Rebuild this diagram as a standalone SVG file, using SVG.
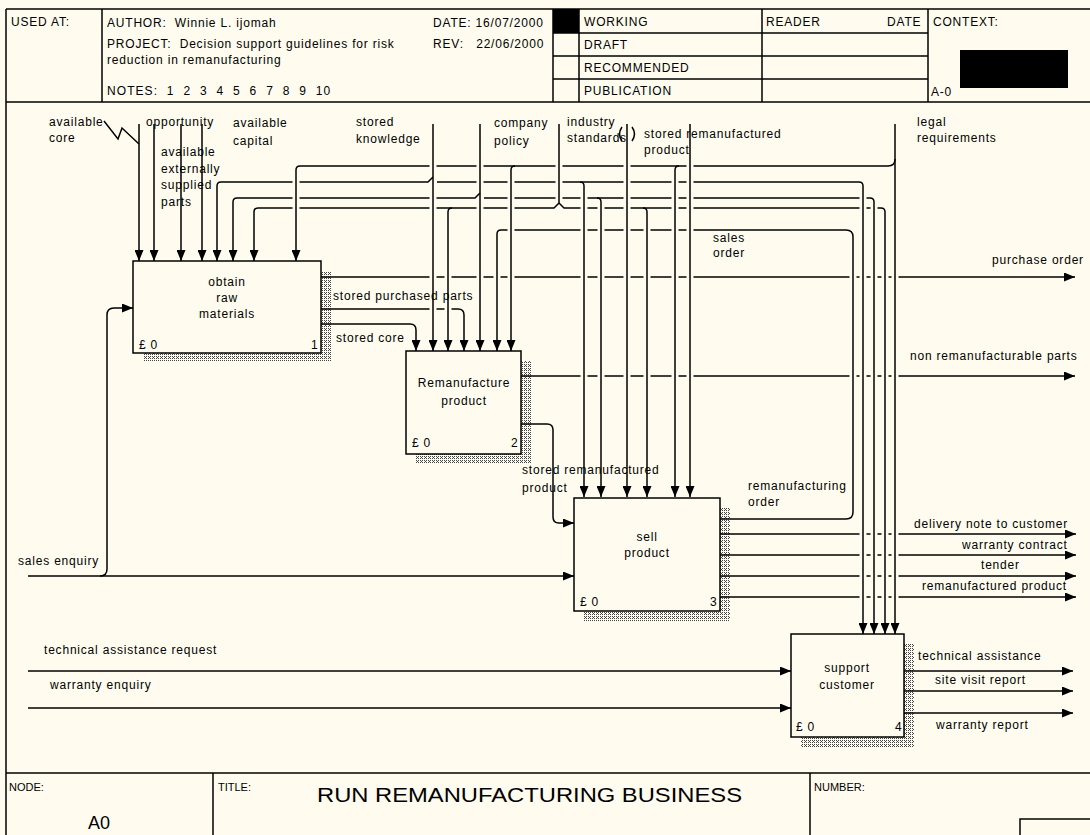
<svg xmlns="http://www.w3.org/2000/svg" width="1090" height="835" viewBox="0 0 1090 835">
<defs>
<style>
.ln{fill:none;stroke:#000;stroke-width:1.5}
.ar{fill:none;stroke:#000;stroke-width:1.5;marker-end:url(#ah)}
.gp{fill:none;stroke:#fffcef;stroke-width:7}
.bx{fill:#fffcef;stroke:#000;stroke-width:1.5}
.sh{fill:url(#hatch)}
text{font-family:"Liberation Sans",Arial,sans-serif;font-size:12px;fill:#000;letter-spacing:0.8px}
.c{text-anchor:middle}
.sm{font-size:11px;letter-spacing:0}
</style>
<marker id="ah" markerUnits="userSpaceOnUse" viewBox="0 0 11 9" markerWidth="11" markerHeight="9" refX="11" refY="4.5" orient="auto"><path d="M0,0L11,4.5L0,9z" fill="#000"/></marker>
<pattern id="hatch" width="4" height="4" patternUnits="userSpaceOnUse"><path d="M0,0h1v1h-1zM2,0h1v1h-1zM1,1h1v1h-1zM0,2h1v1h-1zM2,2h1v1h-1z" fill="#444"/></pattern>
</defs>
<rect x="0" y="0" width="1090" height="835" fill="#fffcef"/>

<g id="frame">
<path class="ln" d="M6,9H1090M6,9V835M6,102H1090M102,9V102M553,9V102M579,9V102M762,9V102M928,9V102M553,33H928M553,56H928M553,79H928"/>
<rect x="553" y="9" width="26" height="24" fill="#000"/>
<rect x="960" y="50" width="108" height="38" fill="#000"/>
<text x="11" y="26">USED AT:</text>
<text x="107" y="27" xml:space="preserve">AUTHOR:  Winnie L. ijomah</text>
<text x="433" y="27">DATE: 16/07/2000</text>
<text x="107" y="48" xml:space="preserve">PROJECT:  Decision support guidelines for risk</text>
<text x="433" y="48" xml:space="preserve">REV:   22/06/2000</text>
<text x="107" y="64">reduction in remanufacturing</text>
<text x="107" y="95" xml:space="preserve" textLength="224" lengthAdjust="spacing">NOTES:  1  2  3  4  5  6  7  8  9  10</text>
<text x="584" y="26">WORKING</text>
<text x="584" y="49">DRAFT</text>
<text x="584" y="72">RECOMMENDED</text>
<text x="584" y="95">PUBLICATION</text>
<text x="766" y="26">READER</text>
<text x="887" y="26">DATE</text>
<text x="933" y="26">CONTEXT:</text>
<text x="931" y="96">A-0</text>
<path class="ln" d="M6,773H1090M213,773V835M810,773V835M1020,835V819H1090"/>
<text x="9" y="791" class="sm">NODE:</text>
<text x="218" y="791" class="sm">TITLE:</text>
<text x="814" y="791" class="sm">NUMBER:</text>
<text x="317" y="802" style="font-size:21px;letter-spacing:0" textLength="425" lengthAdjust="spacingAndGlyphs">RUN REMANUFACTURING BUSINESS</text>
<text x="88" y="829" style="font-size:18px;letter-spacing:0">A0</text>
</g>

<g id="node1">
<rect class="sh" x="321" y="271" width="10" height="90"/>
<rect class="sh" x="143" y="353" width="178" height="8"/>
<rect class="bx" x="133" y="261" width="188" height="92"/>
<text class="c" x="227" y="286">obtain</text>
<text class="c" x="227" y="302">raw</text>
<text class="c" x="227" y="318">materials</text>
<text x="139" y="349">£ 0</text>
<text x="311" y="349">1</text>
</g>
<g id="node2">
<rect class="sh" x="521" y="361" width="10" height="103"/>
<rect class="sh" x="416" y="454" width="105" height="10"/>
<rect class="bx" x="406" y="351" width="115" height="103"/>
<text class="c" x="464" y="387">Remanufacture</text>
<text class="c" x="464" y="405">product</text>
<text x="412" y="447">£ 0</text>
<text x="511" y="447">2</text>
</g>
<g id="node3">
<rect class="sh" x="720" y="508" width="10" height="113"/>
<rect class="sh" x="584" y="611" width="136" height="10"/>
<rect class="bx" x="574" y="498" width="146" height="113"/>
<text class="c" x="647" y="541">sell</text>
<text class="c" x="647" y="557">product</text>
<text x="580" y="606">£ 0</text>
<text x="710" y="606">3</text>
</g>
<g id="node4">
<rect class="sh" x="904" y="644" width="10" height="103"/>
<rect class="sh" x="801" y="737" width="103" height="10"/>
<rect class="bx" x="791" y="634" width="113" height="103"/>
<text class="c" x="847" y="672">support</text>
<text class="c" x="847" y="689">customer</text>
<text x="796" y="731">£ 0</text>
<text x="895" y="731">4</text>
</g>

<g id="connectors">
<path class="ar" d="M139,124V261"/>
<path class="ln" d="M104,121L118,139L122,128L139,144"/>
<path class="ar" d="M154,124V261"/>
<path class="ar" d="M181,124V261"/>
<path class="ar" d="M202,124V261"/>
<path class="ar" d="M433,124V351"/>
<path class="ar" d="M433,177L428,182H221Q217,182 217,186V261"/>
<path class="ar" d="M437,182H859Q863,182 863,186V634"/>
<path class="ar" d="M580,182Q584,182 584,186V497"/>
<path class="ar" d="M480,124V351"/>
<path class="ar" d="M480,193L475,198H237Q233,198 233,202V261"/>
<path class="ar" d="M484,198H870Q874,198 874,202V634"/>
<path class="ar" d="M597,198Q601,198 601,202V497"/>
<path class="ln" d="M559,124V203"/>
<path class="ar" d="M559,203L554,208H258Q254,208 254,212V261"/>
<path class="ar" d="M559,203L564,208H881Q885,208 885,212V634"/>
<path class="ar" d="M452,208Q448,208 448,212V351"/>
<path class="ar" d="M643,208Q647,208 647,212V497"/>
<path class="ar" d="M895,124V634"/>
<path class="ar" d="M895,159Q895,166 888,166H300Q296,166 296,170V261"/>
<path class="ar" d="M515,166Q511,166 511,170V351"/>
<path class="ar" d="M679,166Q675,166 675,170V497"/>
<path class="ar" d="M627,124V497"/>
<path class="ln" d="M622,127Q617,134 622,141M632,127Q637,134 632,141"/>
<path class="ar" d="M690,124V497"/>
<path class="ar" d="M321,277H1075"/>
<path class="ar" d="M321,309H458Q464,309 464,315V351"/>
<path class="ar" d="M321,324H410Q416,324 416,330V351"/>
<path class="ar" d="M28,576H574"/>
<path class="ar" d="M100,576Q107,576 107,569V315Q107,308 114,308H133"/>
<path class="ar" d="M521,376H1075"/>
<path class="ar" d="M521,424H547Q553,424 553,430V517Q553,523 559,523H574"/>
<path class="ar" d="M720,519H846Q853,519 853,512V237Q853,230 846,230H501Q497,230 497,234V351"/>
<path class="ar" d="M720,534H1076"/>
<path class="ar" d="M720,555H1076"/>
<path class="ar" d="M720,576H1076"/>
<path class="ar" d="M720,597H1076"/>
<path class="ar" d="M28,671H791"/>
<path class="ar" d="M28,708H791"/>
<path class="ar" d="M904,671H1073"/>
<path class="ar" d="M904,691H1073"/>
<path class="ar" d="M904,713H1073"/>
<g id="crossings">
<path class="gp" d="M296,179v6M296,195v6M296,205v6M433,163v6M433,195v6M433,205v6M433,274v6M433,306v6M448,274v6M448,306v6M480,163v6M480,179v6M480,205v6M480,274v6M497,274v6M511,179v6M511,195v6M511,205v6M511,227v6M511,274v6M559,163v6M559,179v6M559,195v6M584,195v6M584,205v6M584,227v6M584,274v6M584,373v6M601,205v6M601,227v6M601,274v6M601,373v6M627,163v6M627,179v6M627,195v6M627,205v6M627,227v6M627,274v6M627,373v6M647,227v6M647,274v6M647,373v6M675,179v6M675,195v6M675,205v6M675,227v6M675,274v6M675,373v6M690,163v6M690,179v6M690,195v6M690,205v6M690,227v6M690,274v6M690,373v6M853,274v6M853,373v6M863,195v6M863,205v6M863,274v6M863,373v6M863,531v6M863,552v6M863,573v6M863,594v6M874,205v6M874,274v6M874,373v6M874,531v6M874,552v6M874,573v6M874,594v6M885,274v6M885,373v6M885,531v6M885,552v6M885,573v6M885,594v6M895,274v6M895,373v6M895,531v6M895,552v6M895,573v6M895,594v6"/>
<path class="ln" d="M296,179v6M296,195v6M296,205v6M433,163v6M433,195v6M433,205v6M433,274v6M433,306v6M448,274v6M448,306v6M480,163v6M480,179v6M480,205v6M480,274v6M497,274v6M511,179v6M511,195v6M511,205v6M511,227v6M511,274v6M559,163v6M559,179v6M559,195v6M584,195v6M584,205v6M584,227v6M584,274v6M584,373v6M601,205v6M601,227v6M601,274v6M601,373v6M627,163v6M627,179v6M627,195v6M627,205v6M627,227v6M627,274v6M627,373v6M647,227v6M647,274v6M647,373v6M675,179v6M675,195v6M675,205v6M675,227v6M675,274v6M675,373v6M690,163v6M690,179v6M690,195v6M690,205v6M690,227v6M690,274v6M690,373v6M853,274v6M853,373v6M863,195v6M863,205v6M863,274v6M863,373v6M863,531v6M863,552v6M863,573v6M863,594v6M874,205v6M874,274v6M874,373v6M874,531v6M874,552v6M874,573v6M874,594v6M885,274v6M885,373v6M885,531v6M885,552v6M885,573v6M885,594v6M895,274v6M895,373v6M895,531v6M895,552v6M895,573v6M895,594v6"/>
</g>
</g>

<g id="labels">
<text x="49" y="126">available</text>
<text x="49" y="142">core</text>
<text x="146" y="126">opportunity</text>
<text x="161" y="156">available</text>
<text x="161" y="173">externally</text>
<text x="161" y="189">supplied</text>
<text x="161" y="206">parts</text>
<text x="233" y="127">available</text>
<text x="233" y="145">capital</text>
<text x="356" y="126">stored</text>
<text x="356" y="143">knowledge</text>
<text x="494" y="127">company</text>
<text x="494" y="145">policy</text>
<text x="567" y="126">industry</text>
<text x="567" y="142">standards</text>
<text x="644" y="138">stored remanufactured</text>
<text x="644" y="154">product</text>
<text x="917" y="126">legal</text>
<text x="917" y="142">requirements</text>
<text x="713" y="242">sales</text>
<text x="713" y="257">order</text>
<text x="992" y="264">purchase order</text>
<text x="910" y="360">non remanufacturable parts</text>
<text x="333" y="300">stored purchased parts</text>
<text x="336" y="342">stored core</text>
<text x="522" y="474">stored remanufactured</text>
<text x="522" y="492">product</text>
<text x="748" y="490">remanufacturing</text>
<text x="748" y="506">order</text>
<text x="914" y="528">delivery note to customer</text>
<text x="962" y="549">warranty contract</text>
<text x="981" y="569">tender</text>
<text x="922" y="590">remanufactured product</text>
<text x="18" y="565">sales enquiry</text>
<text x="44" y="654">technical assistance request</text>
<text x="50" y="689">warranty enquiry</text>
<text x="918" y="660">technical assistance</text>
<text x="935" y="684">site visit report</text>
<text x="936" y="729">warranty report</text>
</g>
</svg>
